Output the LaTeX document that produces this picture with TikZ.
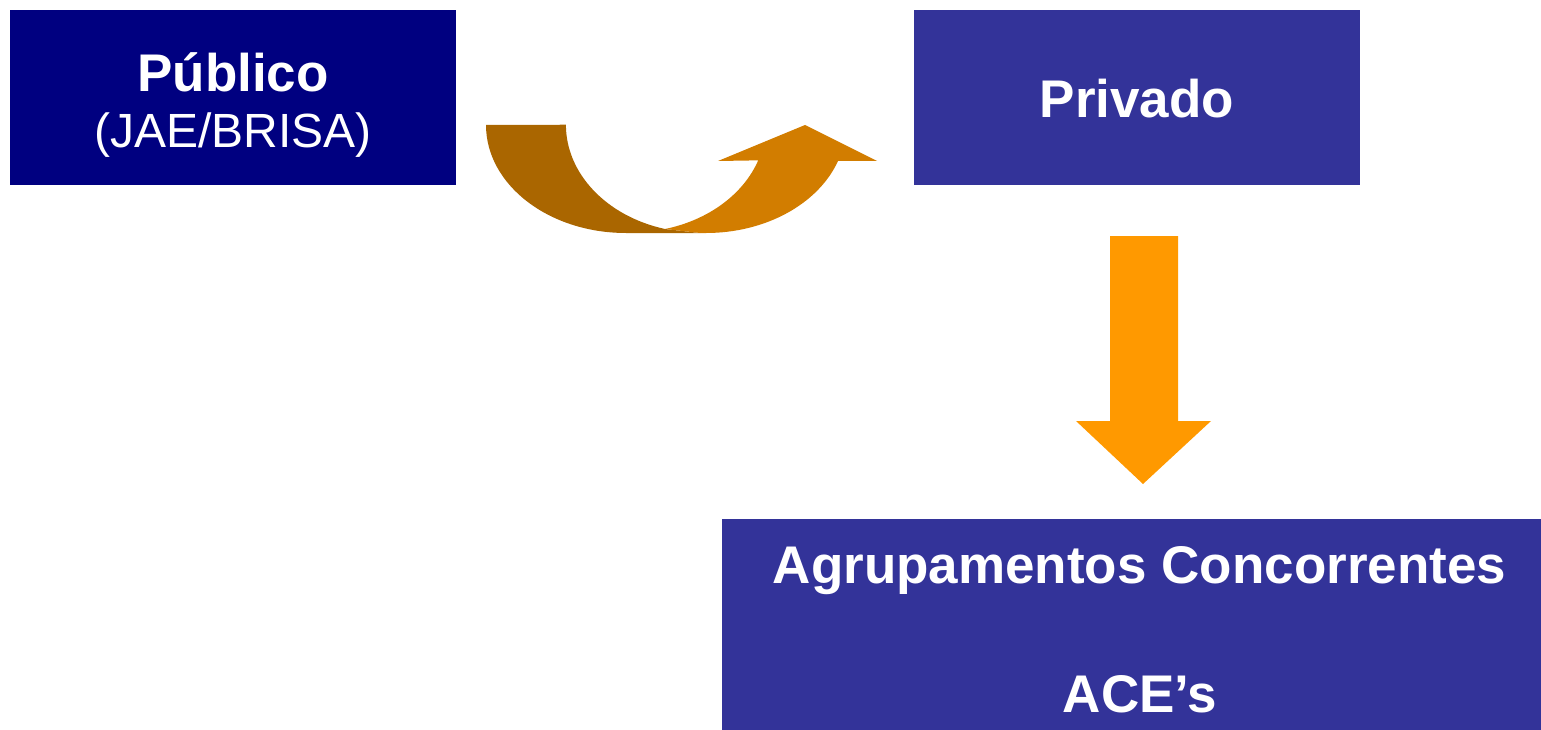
\documentclass[tikz,border=0pt]{standalone}
\usepackage{fontspec}
\setmainfont{Liberation Sans}
\usetikzlibrary{positioning}

\definecolor{navyA}{HTML}{000080}
\definecolor{indigoA}{HTML}{333399}
\definecolor{orangeA}{HTML}{FF9900}
\definecolor{brownA}{HTML}{AA6600}
\definecolor{amberA}{HTML}{D27D00}

\tikzset{
  box/.style = {rectangle, draw=none, inner sep=0pt},
  title/.style = {text=white, anchor=base, inner sep=0pt,
                  font=\fontsize{53}{60}\selectfont\bfseries},
  subtitle/.style = {text=white, anchor=base, inner sep=0pt,
                     font=\fontsize{48}{56}\selectfont}
}

\begin{document}
\begin{tikzpicture} [x=1pt, y=-1pt, node distance = 904pt, on grid]
\useasboundingbox (0,0) rectangle (1541,730);

% the three boxes
\node (pub) [box, fill=navyA, minimum width=446pt, minimum height=175pt] at (233,97.5) {};
\node (priv) [box, fill=indigoA, minimum width=446pt, minimum height=175pt, right = of pub] {};
\node (agr) [box, fill=indigoA, minimum width=819pt, minimum height=211pt,
             below = 527pt of priv, xshift=-5.5pt] {};

% texts
\node (pubname) [title] at (233,92) {Público};
\node (pubsub) [subtitle] at (233,148) {(JAE/BRISA)};
\node (privname) [title] at (1137,118) {Privado};
\node (agrname) [title] at (1139.5,583) {Agrupamentos Concorrentes};
\node (agrsub) [title] at (1140,712) {ACE’s};

% curved arrow from pub to priv
\fill [brownA] (486,125) arc [start angle=180, end angle=90, x radius=140, y radius=108]
    -- (700,233) -- (665,229)
    arc [start angle=105.1, end angle=180, x radius=134, y radius=108] -- cycle;
\fill [amberA] (665,229) arc [start angle=75.7, end angle=19.47, x radius=134, y radius=108]
    -- (718,161) -- (805,125) -- (877,161) -- (838,161)
    arc [start angle=19.47, end angle=90, x radius=140, y radius=108] -- (700,233) -- cycle;

% down arrow from priv to agr
\fill [orangeA] (1110,236) -- (1178,236) -- (1178,421) -- (1211,421)
    -- (1143,484) -- (1076,421) -- (1110,421) -- cycle;
\end{tikzpicture}
\end{document}
